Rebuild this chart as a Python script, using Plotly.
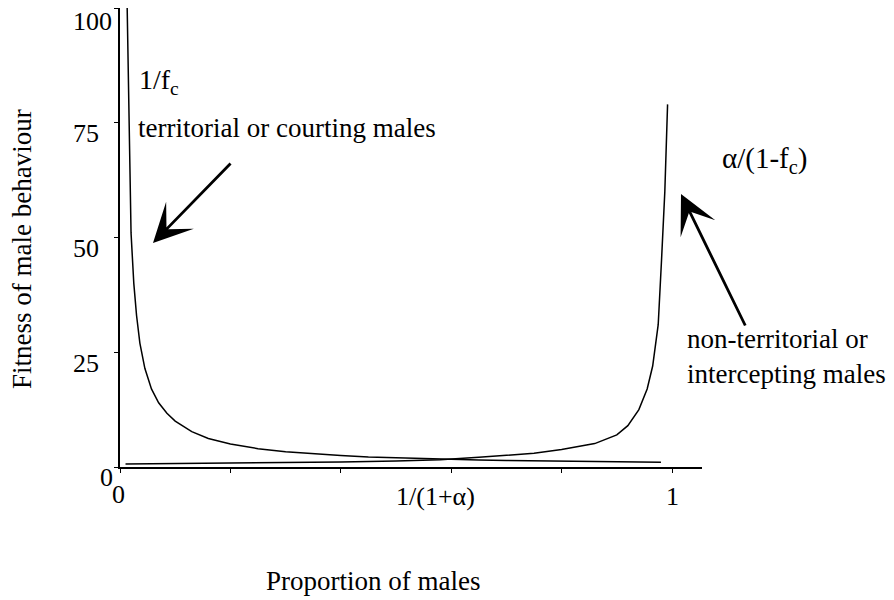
import plotly.graph_objects as go

# Proportion of males (f_c) and fitness
f_terr = [0.013, 0.016, 0.02, 0.025, 0.03, 0.036, 0.045, 0.057, 0.07, 0.085, 0.1,
          0.13, 0.16, 0.2, 0.25, 0.3, 0.35, 0.4, 0.45, 0.5, 0.55, 0.6, 0.65, 0.7,
          0.75, 0.8, 0.85, 0.9, 0.95, 0.98]
fit_terr = [100, 75, 51, 40, 33, 27, 21.5, 17, 14, 11.7, 10,
            7.7, 6.2, 5.0, 4.0, 3.3, 2.85, 2.5, 2.2, 2.0, 1.8, 1.67, 1.55, 1.43,
            1.33, 1.25, 1.18, 1.11, 1.05, 1.02]

f_int = [0.01, 0.1, 0.2, 0.3, 0.4, 0.5, 0.58, 0.65, 0.7, 0.75, 0.8, 0.83, 0.86,
         0.9, 0.92, 0.94, 0.955, 0.965, 0.975, 0.981, 0.987, 0.992]
fit_int = [0.67, 0.74, 0.83, 0.95, 1.11, 1.33, 1.6, 2.1, 2.5, 3.0, 3.8, 4.4, 5.1,
           7.0, 9.0, 12.5, 17, 22, 31, 45, 60, 79]

x_ticks = [0, 0.2, 0.4, 0.6, 0.8, 1.0]
x_tick_labels = {0: "0", 0.6: "1/(1+α)", 1.0: "1"}
y_ticks = [0, 25, 50, 75, 100]
y_tick_labels = ["0", "25", "50", "75", "100"]

FONT = "Liberation Serif, Times New Roman, serif"
FS = 26   # tick labels
FT = 27   # other texts

# page geometry (the page body adds an 8px margin around the figure)
W, H = 878, 592
PL, PR, PT, PB = 120, 702, 8, 467


def px(x):
    return (x - PL) / (PR - PL)


def py(y):
    return (PB - y) / (PB - PT)


fig = go.Figure()
fig.add_trace(go.Scatter(x=f_terr, y=fit_terr, mode="lines",
                         line=dict(color="black", width=1.5), showlegend=False))
fig.add_trace(go.Scatter(x=f_int, y=fit_int, mode="lines",
                         line=dict(color="black", width=1.5), showlegend=False))

ann = []
# y tick labels (left aligned, sitting slightly below their ticks)
for v, t in zip(y_ticks, y_tick_labels):
    if v == 0:
        ann.append(dict(x=0, y=v, xref="x", yref="y", text=t, showarrow=False,
                        xanchor="center", yanchor="middle", xshift=-14, yshift=-10,
                        font=dict(family=FONT, size=FS, color="black")))
    else:
        ann.append(dict(x=0, y=v, xref="x", yref="y", text=t, showarrow=False,
                        xanchor="left", yanchor="middle", xshift=-49,
                        yshift=-11 if v != 100 else -13,
                        font=dict(family=FONT, size=FS, color="black")))
# x tick labels
for v, t in x_tick_labels.items():
    xs = -16 if v == 0.6 else (-2 if v == 0 else 0)
    ann.append(dict(x=v, y=0, xref="x", yref="y", text=t, showarrow=False,
                    xanchor="center", yanchor="middle", xshift=xs,
                    yshift=-29 if v != 0 else -27,
                    font=dict(family=FONT, size=FS, color="black")))

# axis titles
ann.append(dict(x=px(22), y=py(249), xref="paper", yref="paper",
                text="Fitness of male behaviour", textangle=-90, showarrow=False,
                xanchor="center", yanchor="middle",
                font=dict(family=FONT, size=FT, color="black")))
ann.append(dict(x=px(373), y=py(581), xref="paper", yref="paper",
                text="Proportion of males", showarrow=False,
                xanchor="center", yanchor="middle",
                font=dict(family=FONT, size=FT, color="black")))

# curve labels
ann.append(dict(x=px(137), y=py(82), xref="paper", yref="paper",
                text="1/f<sub>c</sub>", showarrow=False, xanchor="left", yanchor="middle",
                font=dict(family=FONT, size=28, color="black")))
ann.append(dict(x=px(136), y=py(128), xref="paper", yref="paper",
                text="territorial or courting males", showarrow=False,
                xanchor="left", yanchor="middle",
                font=dict(family=FONT, size=FT, color="black")))
ann.append(dict(x=px(720), y=py(160), xref="paper", yref="paper",
                text="α/(1-f<sub>c</sub>)", showarrow=False, xanchor="left", yanchor="middle",
                font=dict(family=FONT, size=29, color="black")))
ann.append(dict(x=px(685), y=py(356), xref="paper", yref="paper",
                text="non-territorial or<br>intercepting males", showarrow=False,
                xanchor="left", yanchor="middle", align="left",
                font=dict(family=FONT, size=FT, color="black")))

# arrows
ann.append(dict(x=px(153), y=py(243), xref="paper", yref="paper",
                text="", showarrow=True, ax=79, ay=-81, arrowhead=3,
                arrowsize=2.3, arrowwidth=2.8, arrowcolor="black"))
ann.append(dict(x=px(681), y=py(194), xref="paper", yref="paper",
                text="", showarrow=True, ax=65, ay=133, arrowhead=3,
                arrowsize=2.3, arrowwidth=2.8, arrowcolor="black"))

fig.update_layout(
    width=W, height=H,
    margin=dict(l=PL - 8, r=W - (PR - 8), t=PT - 8, b=H - (PB - 8)),
    paper_bgcolor="white", plot_bgcolor="white",
    annotations=ann,
    font=dict(family=FONT, size=FS, color="black"),
)
fig.update_xaxes(range=[0, (PR - PL) / 552], tickvals=x_ticks, showticklabels=False,
                 ticks="outside", ticklen=4, tickwidth=1.2, tickcolor="black",
                 showline=True, linecolor="black", linewidth=1.5,
                 showgrid=False, zeroline=False)
fig.update_yaxes(range=[0, 100], tickvals=y_ticks, showticklabels=False,
                 ticks="outside", ticklen=4, tickwidth=1.2, tickcolor="black",
                 showline=True, linecolor="black", linewidth=1.5,
                 showgrid=False, zeroline=False)

fig.write_html("out.html")
